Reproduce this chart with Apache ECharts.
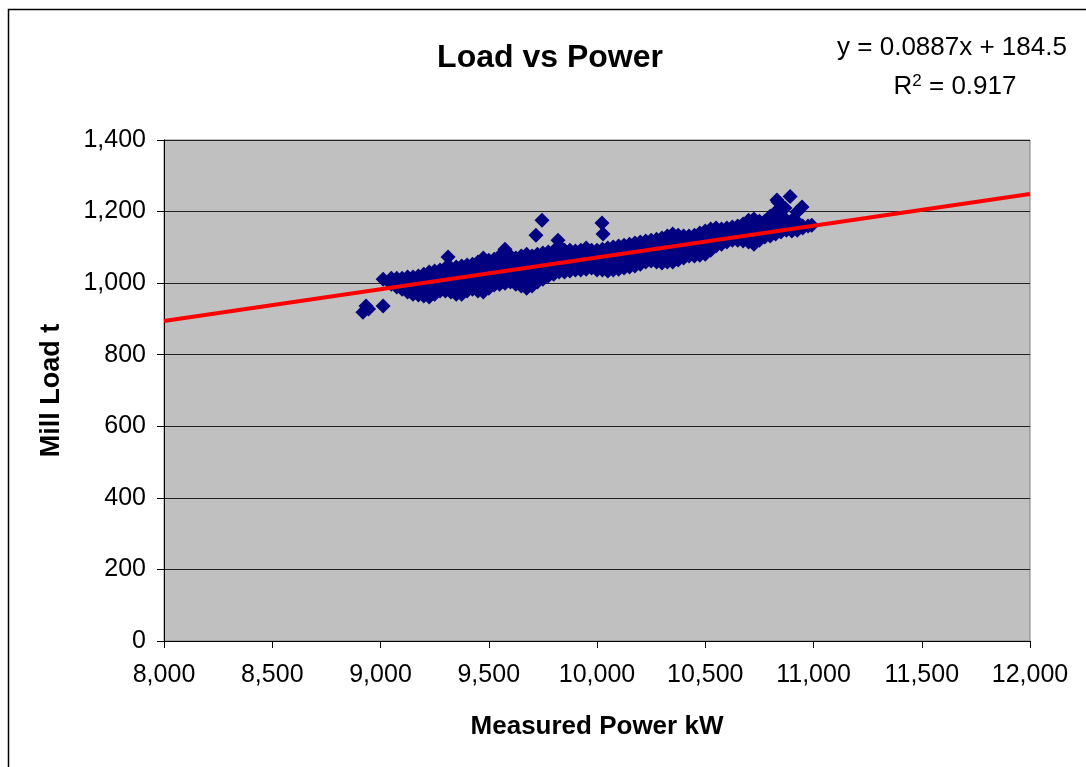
<!DOCTYPE html>
<html>
<head>
<meta charset="utf-8">
<title>Load vs Power</title>
<script src="https://cdn.jsdelivr.net/npm/echarts@6/dist/echarts.min.js"></script>
<style>
  html, body { margin: 0; padding: 0; background: #ffffff; }
  #chart { width: 1086px; height: 767px; }
</style>
</head>
<body>
<div id="chart"></div>
<script>
// Mill load (t) readings against measured power (kW).
// Each row: [power kW, load t, load t, ...] — several readings logged at the same power.
const bandLow = [
  [9012, 1011],
  [9050, 997, 1014],
  [9075, 989, 1001, 1014],
  [9100, 983, 998, 1014],
  [9125, 975, 989, 1003, 1017],
  [9150, 969, 985, 1001, 1017],
  [9175, 967, 985, 1002, 1020],
  [9200, 964, 984, 1005, 1025],
  [9225, 961, 978, 996, 1013, 1031],
  [9250, 969, 985, 1001, 1018, 1034],
  [9275, 978, 998, 1017, 1037],
  [9300, 978, 999, 1021, 1042],
  [9325, 975, 992, 1008, 1025, 1042],
  [9350, 969, 988, 1007, 1026, 1045],
  [9375, 969, 989, 1008, 1028, 1048],
  [9400, 978, 996, 1015, 1033, 1051],
  [9425, 983, 1001, 1018, 1036, 1053],
  [9450, 978, 998, 1018, 1039, 1059],
  [9475, 975, 994, 1013, 1032, 1051, 1070]
];
const bandMid = [
  [9500, 986, 1006, 1025, 1045, 1064],
  [9525, 995, 1013, 1031, 1049, 1067],
  [9550, 997, 1017, 1036, 1056, 1076],
  [9575, 1000, 1019, 1038, 1057, 1076, 1095],
  [9600, 1003, 1021, 1040, 1058, 1076],
  [9625, 997, 1015, 1034, 1052, 1070],
  [9650, 992, 1013, 1034, 1055, 1076],
  [9675, 986, 1005, 1024, 1043, 1062, 1081],
  [9700, 992, 1013, 1034, 1055, 1076],
  [9725, 1003, 1023, 1042, 1062, 1081],
  [9750, 1011, 1029, 1048, 1066, 1084],
  [9775, 1020, 1042, 1065, 1087],
  [9800, 1025, 1047, 1068, 1090],
  [9825, 1031, 1049, 1068, 1086, 1104],
  [9850, 1031, 1051, 1072, 1092],
  [9875, 1034, 1053, 1073, 1092],
  [9900, 1037, 1055, 1072, 1090],
  [9925, 1037, 1055, 1074, 1092],
  [9950, 1039, 1059, 1078, 1098],
  [9975, 1042, 1059, 1075, 1092],
  [10000, 1037, 1055, 1074, 1092],
  [10025, 1037, 1056, 1076, 1095],
  [10050, 1034, 1055, 1077, 1098],
  [10075, 1037, 1058, 1080, 1101],
  [10100, 1039, 1061, 1082, 1104],
  [10125, 1042, 1063, 1085, 1106],
  [10150, 1045, 1066, 1088, 1109],
  [10175, 1048, 1069, 1091, 1112],
  [10200, 1053, 1074, 1094, 1115],
  [10225, 1059, 1079, 1098, 1118],
  [10250, 1062, 1081, 1101, 1120]
];
const bandHigh = [
  [10275, 1059, 1080, 1102, 1123],
  [10300, 1056, 1079, 1103, 1126],
  [10325, 1059, 1077, 1096, 1114, 1132],
  [10350, 1059, 1079, 1098, 1118, 1137],
  [10375, 1065, 1088, 1111, 1134],
  [10400, 1070, 1091, 1111, 1132],
  [10425, 1076, 1095, 1113, 1132],
  [10450, 1076, 1095, 1115, 1134],
  [10475, 1078, 1099, 1119, 1140],
  [10500, 1081, 1103, 1124, 1146],
  [10525, 1092, 1112, 1131, 1151],
  [10550, 1104, 1121, 1137, 1154],
  [10575, 1109, 1130, 1151],
  [10600, 1115, 1135, 1154],
  [10625, 1120, 1139, 1157],
  [10650, 1120, 1140, 1160],
  [10675, 1118, 1134, 1149, 1165],
  [10700, 1115, 1135, 1156, 1176],
  [10725, 1109, 1132, 1156, 1179],
  [10750, 1120, 1138, 1155, 1173],
  [10775, 1129, 1151, 1173],
  [10800, 1132, 1150, 1169, 1187],
  [10825, 1137, 1158, 1178, 1199],
  [10850, 1143, 1163, 1182],
  [10875, 1148, 1162, 1176],
  [10900, 1146, 1161, 1176],
  [10925, 1148, 1160, 1171],
  [10950, 1154, 1160],
  [10975, 1160],
  [10992, 1162]
];
// Isolated readings away from the main band: [power kW, load t]
const strayReadings = [
  [8919, 919], [8933, 936], [8945, 928], [9012, 936],
  [9312, 1073], [9718, 1134], [9746, 1176], [9820, 1120],
  [10023, 1168], [10028, 1137],
  [10831, 1232], [10836, 1227], [10868, 1210], [10892, 1242],
  [10924, 1199], [10947, 1213]
];

// Linear trend fitted to the readings
const trendSlope = 0.0887;
const trendIntercept = 184.5;
const trendR2 = 0.917;

// Axis ranges
const powerTicks = { min: 8000, max: 12000, step: 500 };
const loadTicks = { min: 0, max: 1400, step: 200 };

const readings = [];
[bandLow, bandMid, bandHigh].forEach(function (rows) {
  rows.forEach(function (row) {
    for (let i = 1; i < row.length; i++) readings.push([row[0], row[i]]);
  });
});
strayReadings.forEach(function (p) { readings.push(p); });

const trendLine = [powerTicks.min, powerTicks.max].map(function (x) {
  return [x, trendSlope * x + trendIntercept];
});

const fmt = function (v) { return Number(v).toLocaleString('en-US'); };
const FONT = '"Liberation Sans", Arial, sans-serif';

const chart = echarts.init(document.getElementById('chart'), null, { renderer: 'canvas' });
chart.setOption({
  backgroundColor: '#ffffff',
  animation: false,
  textStyle: { fontFamily: FONT },
  title: {
    text: 'Load vs Power',
    left: 545, top: 37, textAlign: 'center',
    textStyle: { fontFamily: FONT, fontSize: 32, fontWeight: 'bold', color: '#000' }
  },
  grid: {
    left: 164, right: 56, top: 140, bottom: 126,
    show: true, backgroundColor: '#C0C0C0', borderColor: '#808080', borderWidth: 1
  },
  xAxis: {
    type: 'value',
    min: powerTicks.min, max: powerTicks.max, interval: powerTicks.step,
    name: 'Measured Power kW', nameLocation: 'middle', nameGap: 73,
    nameTextStyle: { fontFamily: FONT, fontSize: 26, fontWeight: 'bold', color: '#000' },
    axisLine: { show: true, onZero: false, lineStyle: { color: '#000', width: 1 } },
    axisTick: { show: true, length: 7, inside: false, lineStyle: { color: '#000' } },
    axisLabel: { margin: 22, fontSize: 25, color: '#000', fontFamily: FONT, formatter: fmt },
    splitLine: { show: false }
  },
  yAxis: {
    type: 'value',
    min: loadTicks.min, max: loadTicks.max, interval: loadTicks.step,
    name: 'Mill Load t', nameLocation: 'middle', nameGap: 99,
    nameTextStyle: { fontFamily: FONT, fontSize: 27, fontWeight: 'bold', color: '#000' },
    axisLine: { show: true, onZero: false, lineStyle: { color: '#000', width: 1 } },
    axisTick: { show: true, length: 7, inside: false, lineStyle: { color: '#000' } },
    axisLabel: { margin: 18, fontSize: 25, color: '#000', fontFamily: FONT, formatter: fmt },
    splitLine: { show: true, lineStyle: { color: '#222', width: 1 } }
  },
  series: [
    {
      name: 'Mill Load',
      type: 'scatter',
      data: readings,
      symbol: 'diamond',
      symbolSize: 15,
      itemStyle: { color: '#000080', opacity: 1 },
      z: 2
    },
    {
      name: 'Trend',
      type: 'line',
      data: trendLine,
      symbol: 'none',
      lineStyle: { color: '#FF0000', width: 4 },
      z: 3
    }
  ],
  graphic: [
    {
      type: 'rect',
      shape: { x: 8.5, y: 9.5, width: 1200, height: 900 },
      style: { fill: 'none', stroke: '#000', lineWidth: 1.5 },
      silent: true
    },
    {
      type: 'text',
      x: 952, y: 48,
      style: {
        text: 'y = ' + trendSlope.toFixed(4) + 'x + ' + trendIntercept.toFixed(1),
        fill: '#000',
        font: '26px ' + FONT,
        align: 'center',
        verticalAlign: 'middle'
      }
    },
    {
      type: 'text',
      x: 955, y: 87,
      style: {
        text: '{r|R}{sup|2}{r| = ' + trendR2.toFixed(3) + '}',
        fill: '#000',
        font: '26px ' + FONT,
        align: 'center',
        verticalAlign: 'middle',
        rich: {
          r: { fontSize: 26, fontFamily: FONT, fill: '#000' },
          sup: { fontSize: 17, fontFamily: FONT, fill: '#000', verticalAlign: 'top', padding: [0, 0, 12, 0] }
        }
      }
    }
  ]
});
</script>
</body>
</html>
